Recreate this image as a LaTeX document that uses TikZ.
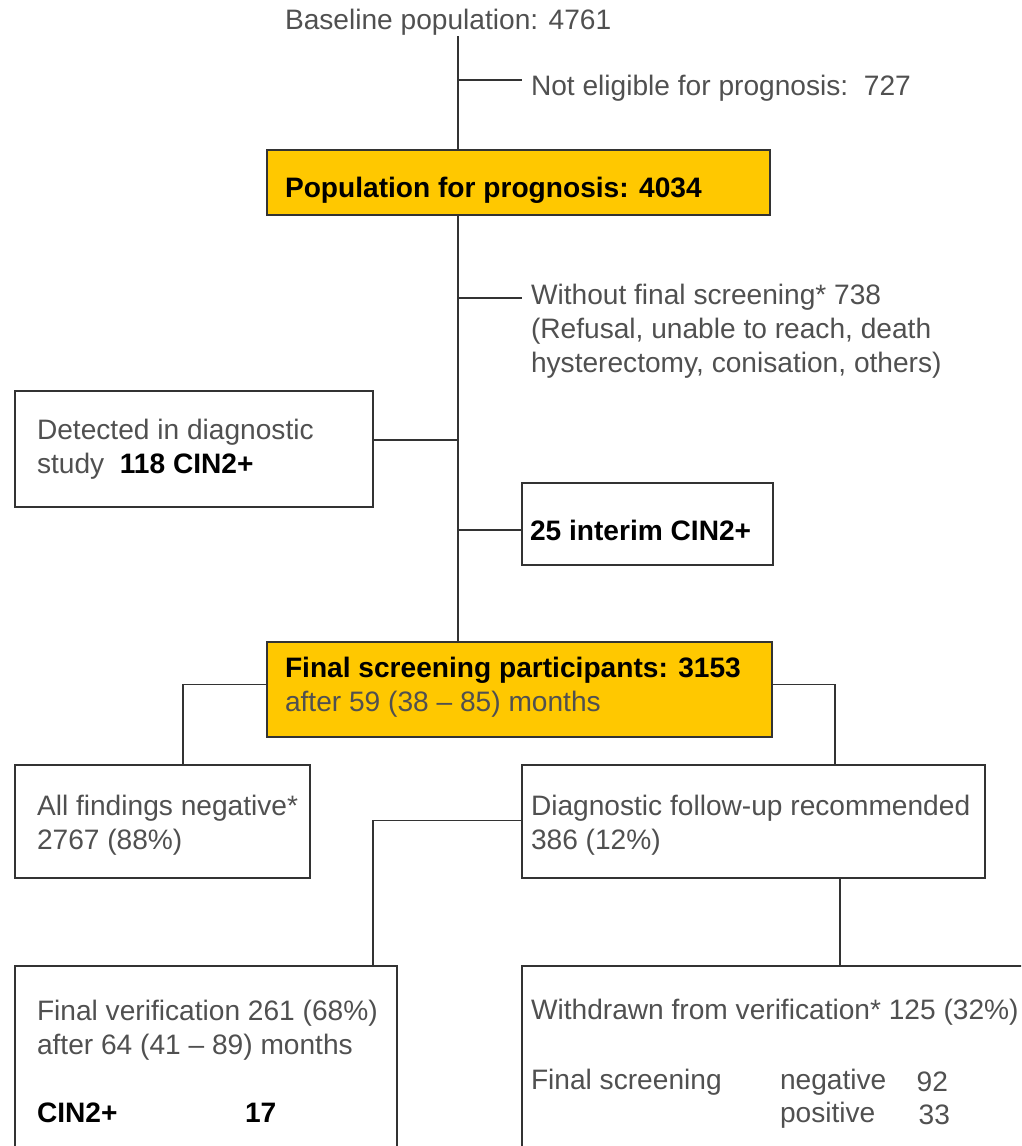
\documentclass[tikz,border=0pt]{standalone}
\usepackage{fontspec}
\setmainfont{Liberation Sans}
\definecolor{gold}{HTML}{FFC800}
\definecolor{txtgray}{HTML}{505050}
\definecolor{linegray}{HTML}{333333}
\newlength\px
\setlength\px{0.025cm}

\begin{document}
\begin{tikzpicture}[x=1\px,y=-1\px,
    every node/.style={font=\fontsize{20}{24}\selectfont,text=txtgray,inner sep=0pt,outer sep=0pt},
    flowbox/.style={draw=linegray,line width=1pt,anchor=north west},
    txt/.style={anchor=west,align=left},
    link/.style={draw=linegray,line width=1pt}]
    \clip (0,0) rectangle (1021,1146);
    % boxes
    \node[flowbox,fill=gold,minimum width=503\px,minimum height=65\px] (pop) at (267,150) {};
    \node[flowbox,minimum width=358\px,minimum height=116\px] (det) at (15,391) {};
    \node[flowbox,minimum width=251\px,minimum height=82\px] (int) at (522,483) {};
    \node[flowbox,fill=gold,minimum width=505\px,minimum height=95\px] (fin) at (267,642) {};
    \node[flowbox,minimum width=295\px,minimum height=113\px] (neg) at (15,765) {};
    \node[flowbox,minimum width=463\px,minimum height=113\px] (diag) at (522,765) {};
    \node[flowbox,minimum width=382\px,minimum height=220\px] (ver) at (15,966) {};
    \node[flowbox,minimum width=540\px,minimum height=220\px] (wd) at (522,966) {};
    % texts
    \node[txt] (base) at (285,22) {Baseline population: 4761};
    \node[txt] (noelig) at (531,88) {Not eligible for prognosis:~~727};
    \node[txt] (popT) at ([xshift=18\px,yshift=-8\px]pop.west) {\textcolor{black}{\textbf{Population for prognosis: 4034}}};
    \node[txt] (without) at (531,331) {Without final screening* 738\\(Refusal, unable to reach, death\\hysterectomy, conisation, others)};
    \node[txt] (detT) at ([xshift=22\px]det.west) {Detected in diagnostic\\study~~\textcolor{black}{\textbf{118 CIN2+}}};
    \node[txt] (intT) at ([xshift=8\px,yshift=-6\px]int.west) {\textcolor{black}{\textbf{25 interim CIN2+}}};
    \node[txt] (finT) at ([xshift=18\px,yshift=2\px]fin.west) {\textcolor{black}{\textbf{Final screening participants: 3153}}\\after 59 (38 -- 85) months};
    \node[txt] (negT) at ([xshift=22\px,yshift=-4\px]neg.west) {All findings negative*\\2767 (88\%)};
    \node[txt] (diagT) at ([xshift=9\px,yshift=-4\px]diag.west) {Diagnostic follow-up recommended\\386 (12\%)};
    \node[txt] (verT) at (37,1030) {Final verification 261 (68\%)\\after 64 (41 -- 89) months};
    \node[txt] (cin) at (37,1113) {\textcolor{black}{\textbf{CIN2+}}};
    \node[txt] (cinN) at (245,1113) {\textcolor{black}{\textbf{17}}};
    \node[txt] (wdT) at (531,1012) {Withdrawn from verification* 125 (32\%)};
    \node[txt] (fs) at (531,1082) {Final screening};
    \node[txt] (fsneg) at (780,1082) {negative};
    \node[txt] (fspos) at (780,1115) {positive};
    \node[anchor=east] (nneg) at (948,1082) {92};
    \node[anchor=east] (npos) at (950,1115) {33};
    % connectors
    \coordinate (top) at (458,36);
    \coordinate (ne) at (458,80);
    \coordinate (wo) at (458,298);
    \draw[link] (top) -- (top |- pop.north);
    \draw[link] (ne) -- ++(64,0);
    \draw[link] (pop.south -| top) -- (fin.north -| top);
    \draw[link] (wo) -- ++(64,0);
    \draw[link] ([yshift=9\px]det.east) -- ([yshift=9\px]det.east -| top);
    \draw[link] ([yshift=-6\px]int.west) -- ([yshift=-6\px]int.west -| top);
    \draw[link] ([yshift=5\px]fin.west) -| ([xshift=20.5\px]neg.north);
    \draw[link] ([yshift=5\px]fin.east) -| ([xshift=81.5\px]diag.north);
    \draw[link] ([yshift=1\px]diag.west) -| ([xshift=167\px]ver.north);
    \draw[link] ([xshift=86.5\px]diag.south) -- ([xshift=86.5\px]diag.south |- wd.north);
\end{tikzpicture}
\end{document}
